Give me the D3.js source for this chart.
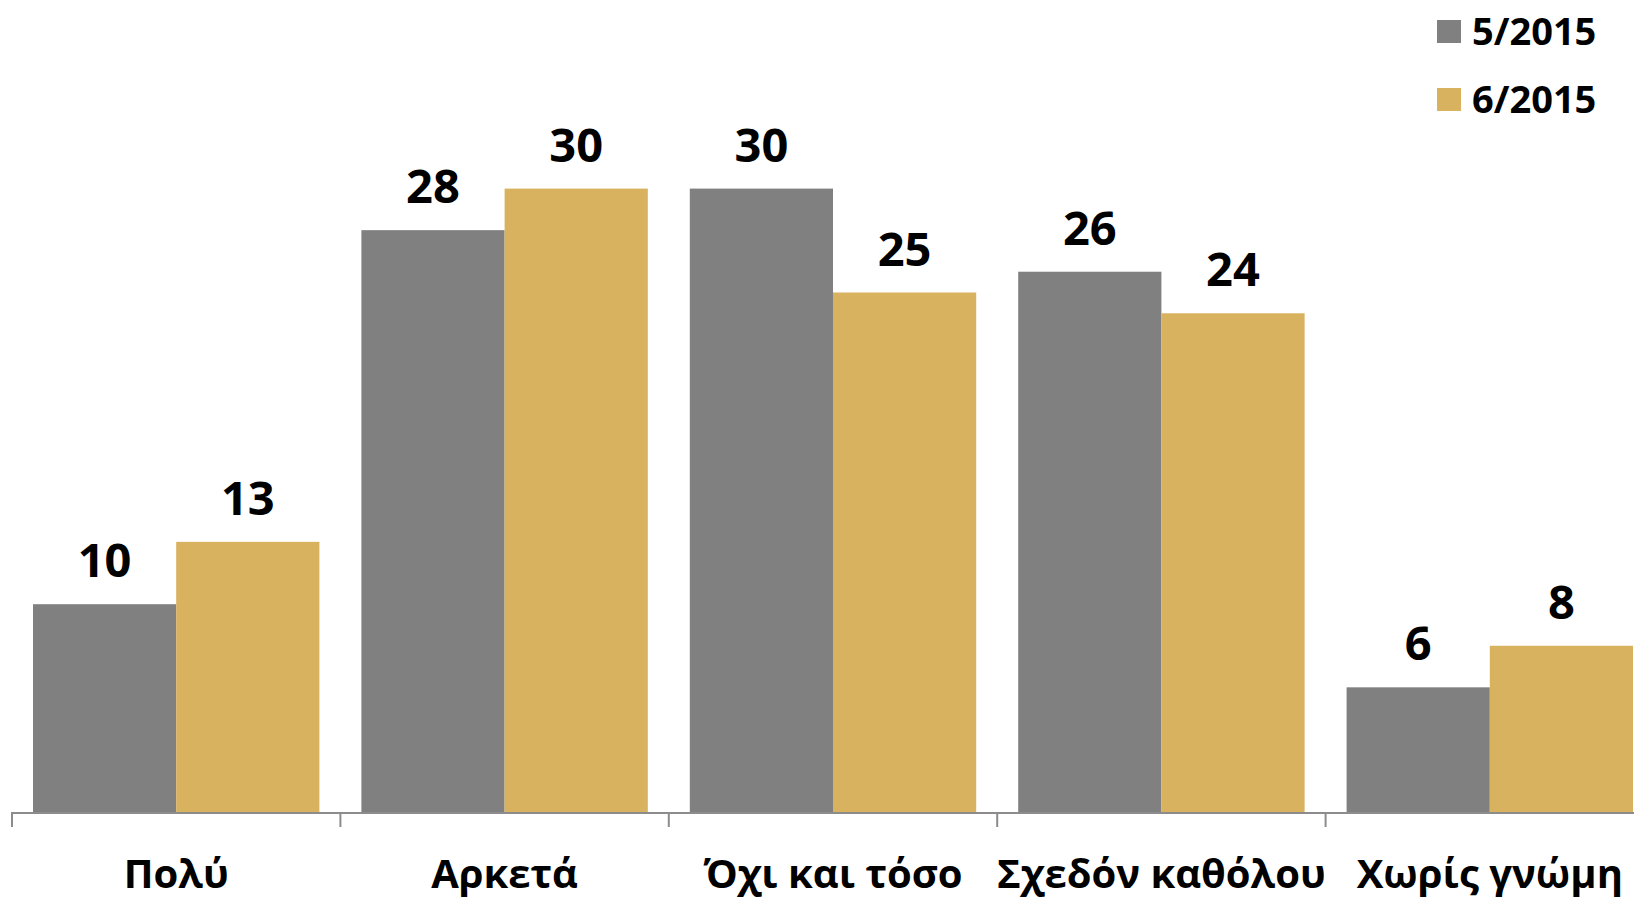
<!DOCTYPE html>
<html>
<head>
<meta charset="utf-8">
<script src="https://cdn.jsdelivr.net/npm/d3@7"></script>
<style>
  body { margin: 0; background: #fff; }
  svg { display: block; font-family: "Open Sans", sans-serif; font-weight: bold; }
</style>
</head>
<body>
<svg id="chart" width="1634" height="899"></svg>
<script>
// δεδομένα
var categories = ["Πολύ", "Αρκετά", "Όχι και τόσο", "Σχεδόν καθόλου", "Χωρίς γνώμη"];
var seriesNames = ["5/2015", "6/2015"];
var may2015 = [10, 28, 30, 26, 6];
var jun2015 = [13, 30, 25, 24, 8];

var colors = ["#808080", "#D8B25E"];

var svg = d3.select("#chart"),
    width = 1634,
    baseline = 812,
    axisLeft = 12,
    bandW = 328.4;

var data = categories.map((c, i) => ({cat: c, values: [may2015[i], jun2015[i]]}));

var x = d3.scaleBand()
    .domain(categories)
    .range([axisLeft, axisLeft + bandW * categories.length]);

var x1 = d3.scaleBand()
    .domain(seriesNames)
    .range([21, bandW - 21]);

var y = d3.scaleLinear()
    .domain([0, 30])
    .range([baseline, 188.6]);

var color = d3.scaleOrdinal().domain(seriesNames).range(colors);

// μπάρες
var group = svg.selectAll(".grp")
    .data(data)
    .enter().append("g")
    .attr("class", "grp")
    .attr("transform", d => `translate(${x(d.cat)},0)`);

group.selectAll("rect")
    .data(d => d.values.map((v, i) => ({key: seriesNames[i], value: v})))
    .enter().append("rect")
    .attr("x", d => x1(d.key))
    .attr("width", x1.bandwidth())
    .attr("y", d => y(d.value))
    .attr("height", d => baseline - y(d.value))
    .attr("fill", d => color(d.key));

group.selectAll("text.val")
    .data(d => d.values.map((v, i) => ({key: seriesNames[i], value: v})))
    .enter().append("text")
    .attr("class", "val")
    .attr("x", d => x1(d.key) + x1.bandwidth() / 2)
    .attr("y", d => y(d.value) - 27)
    .attr("text-anchor", "middle")
    .attr("font-size", 47)
    .attr("fill", "#000")
    .text(d => d.value);

// άξονας
var axis = svg.append("g").attr("class", "x-axis");

axis.append("line")
    .attr("x1", axisLeft)
    .attr("x2", width)
    .attr("y1", baseline + 1)
    .attr("y2", baseline + 1)
    .attr("stroke", "#8c8c8c")
    .attr("stroke-width", 2);

var bounds = categories.map(c => x(c)).concat([x.range()[1]]);
axis.selectAll(".tick")
    .data(bounds)
    .enter().append("line")
    .attr("class", "tick")
    .attr("x1", d => d)
    .attr("x2", d => d)
    .attr("y1", baseline)
    .attr("y2", baseline + 15)
    .attr("stroke", "#8c8c8c")
    .attr("stroke-width", 2);

axis.selectAll(".lbl")
    .data(categories)
    .enter().append("text")
    .attr("class", "lbl")
    .attr("x", d => x(d) + bandW / 2)
    .attr("y", 888)
    .attr("text-anchor", "middle")
    .attr("font-size", 40)
    .attr("fill", "#000")
    .text(d => d);

// υπόμνημα
var legend = svg.append("g").attr("class", "legend");
var leg = legend.selectAll("g")
    .data(seriesNames)
    .enter().append("g")
    .attr("transform", (d, i) => `translate(1437,${20 + i * 68})`);

leg.append("rect")
    .attr("width", 24)
    .attr("height", 23)
    .attr("fill", d => color(d));

leg.append("text")
    .attr("x", 35)
    .attr("y", 25)
    .attr("font-size", 38)
    .attr("fill", "#000")
    .text(d => d);
</script>
</body>
</html>
